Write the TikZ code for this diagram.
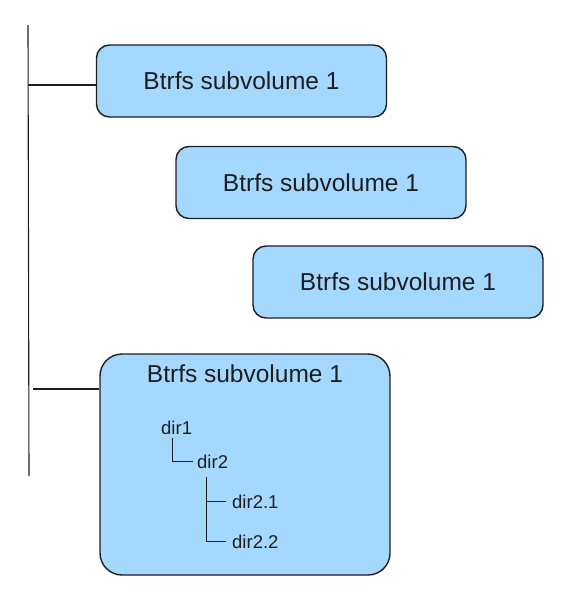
\documentclass[tikz,border=0pt]{standalone}
\usepackage{fontspec}
\setmainfont{Liberation Sans}
\begin{document}
\begin{tikzpicture}[x=1pt,y=-1pt,
  subvol/.style={draw=ink, fill=volblue, line width=1.4pt, rounded corners=13pt,
    minimum width=290pt, minimum height=72pt, text=ink, font=\fontsize{24.5}{28}\selectfont},
  bigvol/.style={draw=ink, fill=volblue, line width=1.4pt, rounded corners=22pt,
    minimum width=290pt, minimum height=221pt},
  voltitle/.style={text=ink, font=\fontsize{24.5}{28}\selectfont, inner sep=0pt, anchor=base},
  dirlabel/.style={text=ink, font=\fontsize{18.5}{22}\selectfont, inner sep=0pt, anchor=base west},
  trunk/.style={draw=ink, line width=1.1pt},
  twig/.style={draw=ink, line width=0.9pt}]
\definecolor{ink}{HTML}{1E1E1E}
\definecolor{volblue}{HTML}{A5D8FF}
\useasboundingbox (0,0) rectangle (575,600);

% subvolume boxes
\node[subvol] (v1) at (241.5,81) {Btrfs subvolume 1};
\node[subvol] (v2) at (321,182.5) {Btrfs subvolume 1};
\node[subvol] (v3) at (398,282) {Btrfs subvolume 1};
\node[bigvol] (v4) at (245,464.5) {};
\node[voltitle] (v4title) at (245,382) {Btrfs subvolume 1};

% directory tree inside the last subvolume
\node[dirlabel] (d1) at (161,434) {dir1};
\node[dirlabel] (d2) at (197,468) {dir2};
\node[dirlabel] (d21) at (232,508) {dir2.1};
\node[dirlabel] (d22) at (232,548) {dir2.2};
\draw[twig] ([shift={(11,4)}]d1.south west) |- ([shift={(-4,0)}]d2.west);
\draw[twig] ([shift={(9,9)}]d2.south west) |- ([shift={(-6,0)}]d22.west);
\draw[twig] ([shift={(9,0)}]d2.south west |- d21.west) -- ([shift={(-6,0)}]d21.west);

% main trunk and its branches
\coordinate (top) at (28,25);
\coordinate (bot) at (29,476);
\coordinate (j1) at (28,85);
\coordinate (j4) at (33,389);
\draw[trunk] (top) -- (bot);
\draw[trunk] (j1) -- (j1 -| v1.west);
\draw[trunk] (j4) -- (j4 -| v4.west);
\end{tikzpicture}
\end{document}
